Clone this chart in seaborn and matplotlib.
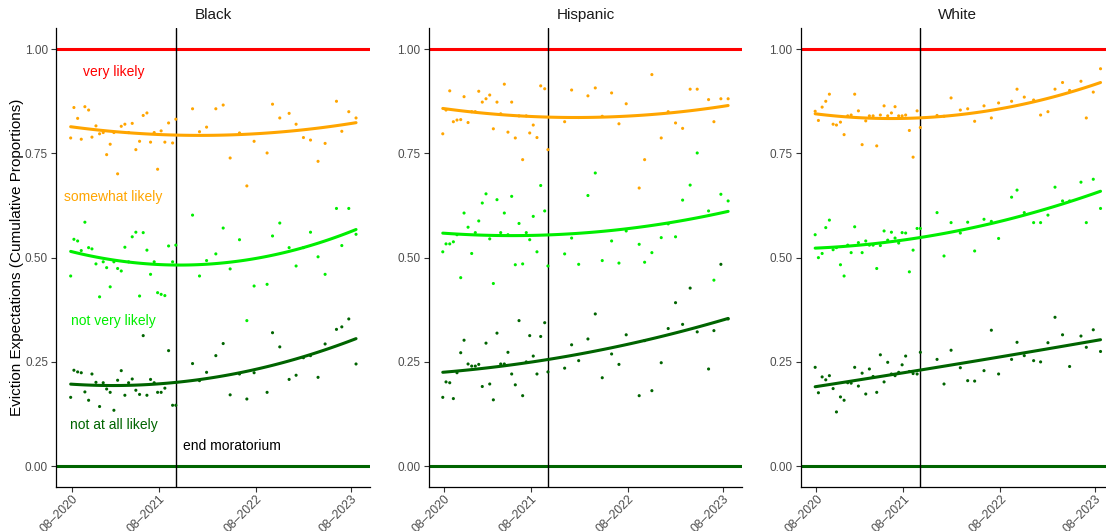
import numpy as np
import pandas as pd
import matplotlib
matplotlib.use("Agg")
import matplotlib.pyplot as plt
import seaborn as sns

# ---------------- data ----------------
# survey waves, in decimal years
waves = [2020.641, 2020.675, 2020.714, 2020.752, 2020.790, 2020.829, 2020.864, 2020.906,
         2020.944, 2020.982, 2021.018, 2021.055, 2021.094, 2021.133, 2021.171, 2021.209,
         2021.248, 2021.286, 2021.324, 2021.363, 2021.401, 2021.440, 2021.478, 2021.516,
         2021.552, 2021.589, 2021.628, 2021.667, 2021.709, 2021.743,
         2021.918, 2021.991, 2022.065, 2022.162, 2022.239, 2022.312, 2022.410, 2022.487,
         2022.563, 2022.699, 2022.756, 2022.832, 2022.930, 2023.003, 2023.080, 2023.154,
         2023.233, 2023.307, 2023.426, 2023.482, 2023.555, 2023.631]

black_somewhat = [0.787, 0.860, 0.834, 0.784, 0.862, 0.854, 0.789, 0.816, 0.797, 0.800,
                  0.747, 0.772, 0.800, 0.701, 0.815, 0.820, 0.800, 0.822, 0.759, 0.779,
                  0.841, 0.847, 0.777, 0.800, 0.712, 0.804, 0.777, 0.823, 0.775, 0.832,
                  0.857, 0.802, 0.813, 0.857, 0.866, 0.739, 0.799, 0.672, 0.779, 0.751,
                  0.868, 0.835, 0.846, 0.820, 0.788, 0.782, 0.731, 0.774, 0.875, 0.803,
                  0.850, 0.835]
black_notvery = [0.456, 0.544, 0.540, 0.517, 0.585, 0.524, 0.521, 0.485, 0.406, 0.490,
                 0.476, 0.430, 0.490, 0.474, 0.468, 0.525, 0.490, 0.550, 0.561, 0.408,
                 0.560, 0.518, 0.460, 0.490, 0.416, 0.412, 0.409, 0.528, 0.490, 0.530,
                 0.602, 0.456, 0.493, 0.509, 0.571, 0.473, 0.543, 0.349, 0.432, 0.436,
                 0.552, 0.583, 0.524, 0.480, 0.524, 0.561, 0.502, 0.460, 0.618, 0.529,
                 0.618, 0.556]
black_notatall = [0.165, 0.230, 0.226, 0.224, 0.178, 0.158, 0.221, 0.201, 0.143, 0.200,
                  0.185, 0.177, 0.134, 0.206, 0.229, 0.170, 0.200, 0.209, 0.182, 0.172,
                  0.313, 0.170, 0.208, 0.200, 0.177, 0.177, 0.187, 0.277, 0.146, 0.146,
                  0.246, 0.205, 0.225, 0.265, 0.294, 0.171, 0.221, 0.161, 0.224, 0.177,
                  0.320, 0.286, 0.208, 0.218, 0.260, 0.265, 0.213, 0.293, 0.328, 0.334,
                  0.353, 0.245]

hisp_somewhat = [0.797, 0.854, 0.900, 0.826, 0.830, 0.831, 0.886, 0.824, 0.850, 0.850,
                 0.899, 0.873, 0.881, 0.890, 0.809, 0.873, 0.845, 0.916, 0.801, 0.873,
                 0.787, 0.840, 0.735, 0.840, 0.799, 0.818, 0.788, 0.912, 0.905, 0.759,
                 0.826, 0.902, 0.836, 0.888, 0.907, 0.839, 0.895, 0.821, 0.869, 0.667,
                 0.735, 0.939, 0.787, 0.850, 0.823, 0.810, 0.904, 0.904, 0.879, 0.826,
                 0.881, 0.881]
hisp_notvery = [0.514, 0.533, 0.533, 0.538, 0.555, 0.452, 0.607, 0.573, 0.510, 0.560,
                0.588, 0.631, 0.653, 0.545, 0.438, 0.639, 0.560, 0.607, 0.555, 0.647,
                0.483, 0.582, 0.485, 0.560, 0.543, 0.599, 0.514, 0.673, 0.612, 0.480,
                0.509, 0.547, 0.484, 0.649, 0.703, 0.493, 0.540, 0.487, 0.564, 0.532,
                0.489, 0.512, 0.548, 0.581, 0.550, 0.638, 0.674, 0.751, 0.612, 0.446,
                0.652, 0.636]
hisp_notatall = [0.165, 0.202, 0.200, 0.162, 0.224, 0.272, 0.302, 0.245, 0.240, 0.240,
                 0.244, 0.191, 0.295, 0.197, 0.159, 0.319, 0.245, 0.245, 0.273, 0.221,
                 0.195, 0.349, 0.169, 0.250, 0.313, 0.264, 0.221, 0.311, 0.344, 0.226,
                 0.235, 0.291, 0.253, 0.305, 0.365, 0.212, 0.269, 0.244, 0.315, 0.169,
                 0.301, 0.181, 0.248, 0.330, 0.392, 0.340, 0.427, 0.322, 0.233, 0.325,
                 0.484, 0.353]

white_somewhat = [0.851, 0.829, 0.861, 0.875, 0.892, 0.820, 0.818, 0.825, 0.795, 0.840,
                  0.842, 0.892, 0.852, 0.771, 0.828, 0.840, 0.840, 0.768, 0.842, 0.864,
                  0.840, 0.847, 0.862, 0.840, 0.840, 0.842, 0.805, 0.741, 0.852, 0.812,
                  0.841, 0.839, 0.883, 0.854, 0.857, 0.827, 0.864, 0.835, 0.871, 0.875,
                  0.904, 0.885, 0.878, 0.842, 0.850, 0.904, 0.920, 0.901, 0.923, 0.835,
                  0.897, 0.953]
white_notvery = [0.555, 0.500, 0.510, 0.572, 0.590, 0.519, 0.524, 0.483, 0.456, 0.530,
                 0.512, 0.574, 0.536, 0.512, 0.540, 0.530, 0.530, 0.474, 0.529, 0.564,
                 0.542, 0.561, 0.547, 0.535, 0.560, 0.559, 0.466, 0.518, 0.570, 0.570,
                 0.608, 0.504, 0.584, 0.559, 0.585, 0.516, 0.592, 0.587, 0.546, 0.645,
                 0.662, 0.608, 0.584, 0.584, 0.602, 0.669, 0.636, 0.636, 0.681, 0.584,
                 0.688, 0.618]
white_notatall = [0.237, 0.176, 0.214, 0.207, 0.217, 0.186, 0.130, 0.166, 0.158, 0.200,
                  0.199, 0.237, 0.192, 0.223, 0.173, 0.233, 0.215, 0.177, 0.267, 0.202,
                  0.249, 0.221, 0.217, 0.225, 0.243, 0.264, 0.227, 0.222, 0.221, 0.273,
                  0.256, 0.197, 0.278, 0.236, 0.205, 0.204, 0.229, 0.326, 0.221, 0.256,
                  0.297, 0.265, 0.253, 0.250, 0.296, 0.357, 0.315, 0.239, 0.312, 0.285,
                  0.327, 0.275]

groups = ["Black", "Hispanic", "White"]
levels = ["somewhat likely", "not very likely", "not at all likely"]
level_labels = ["very likely", "somewhat likely", "not very likely", "not at all likely"]
level_label_y = [0.945, 0.645, 0.348, 0.098]
tick_years = [2020.654, 2021.565, 2022.581, 2023.576]
tick_labels = ["08\u20132020", "08\u20132021", "08\u20132022", "08\u20132023"]
moratorium_end = 2021.743
y_ticks = [0.0, 0.25, 0.5, 0.75, 1.0]

series = {
    "Black": [black_somewhat, black_notvery, black_notatall],
    "Hispanic": [hisp_somewhat, hisp_notvery, hisp_notatall],
    "White": [white_somewhat, white_notvery, white_notatall],
}

rows = []
for g in groups:
    for lev, vals in zip(levels, series[g]):
        for w, v in zip(waves, vals):
            rows.append({"group": g, "level": lev, "wave": w, "value": v})
df = pd.DataFrame(rows)

colors = {"very likely": "#FF0000", "somewhat likely": "#FFA500",
          "not very likely": "#00EE00", "not at all likely": "#006400"}

# ---------------- figure ----------------
sns.set_theme(style="white")
plt.rcParams['font.family'] = ['Liberation Sans', 'DejaVu Sans']

W, H = 1106, 531
fig = plt.figure(figsize=(W / 100, H / 100), dpi=100)
fig.patch.set_facecolor("white")

lefts = [56.4, 428.5, 800.9]
width = 313.9
top, bottom = 28.3, 487.0

wmin, wmax = min(waves), max(waves)
span = wmax - wmin

for i, g in enumerate(groups):
    ax = fig.add_axes([lefts[i] / W, 1 - bottom / H, width / W, (bottom - top) / H])
    ax.set_facecolor("white")
    sub = df[df["group"] == g]

    ax.axhline(1.0, color=colors["very likely"], lw=2.2, zorder=2)
    ax.axhline(0.0, color=colors["not at all likely"], lw=2.2, zorder=2)
    ax.axvline(moratorium_end, color="black", lw=1.0, zorder=2)

    sns.scatterplot(data=sub, x="wave", y="value", hue="level", palette=colors,
                    hue_order=levels, s=5, linewidth=0, legend=False, ax=ax, zorder=3)
    for lev in levels:
        s = sub[sub["level"] == lev]
        sns.regplot(data=s, x="wave", y="value", order=2, ci=None, scatter=False,
                    truncate=True, ax=ax,
                    line_kws=dict(color=colors[lev], lw=2.2, zorder=4))

    ax.set_xlim(wmin - 0.05 * span, wmax + 0.05 * span)
    ax.set_ylim(-0.05, 1.05)
    ax.set_yticks(y_ticks)
    ax.set_yticklabels([f"{t:.2f}" for t in y_ticks], fontsize=8.5, color="#4D4D4D")
    ax.set_xticks(tick_years)
    ax.set_xticklabels(tick_labels, rotation=45, ha="right", va="top",
                       rotation_mode="anchor", fontsize=8.8, color="#4D4D4D")
    ax.tick_params(axis="y", which="major", length=3.5, width=0.8,
                   color="#333333", direction="out", left=True, pad=2.5)
    ax.tick_params(axis="x", which="major", length=3.5, width=0.8,
                   color="#333333", direction="out", bottom=True, pad=0.8)
    ax.set_xlabel("")
    ax.set_ylabel("")
    for side in ["top", "right"]:
        ax.spines[side].set_visible(False)
    for side in ["left", "bottom"]:
        ax.spines[side].set_visible(True)
        ax.spines[side].set_color("black")
        ax.spines[side].set_linewidth(0.9)
    ax.set_title(g, fontsize=11, color="#1A1A1A", pad=7)

    if i == 0:
        x_lab = 2021.09
        for lab, yv in zip(level_labels, level_label_y):
            ax.text(x_lab, yv, lab, color=colors[lab], fontsize=10,
                    ha="center", va="center", zorder=5)
        ax.text(2022.33, 0.048, "end moratorium", color="black", fontsize=10,
                ha="center", va="center", zorder=5)

fig.text(17 / W, 1 - ((top + bottom) / 2) / H,
         "Eviction Expectations (Cumulative Proportions)",
         rotation=90, ha="center", va="center", fontsize=11, color="black")

fig.savefig("out.png", dpi=100, facecolor="white")
